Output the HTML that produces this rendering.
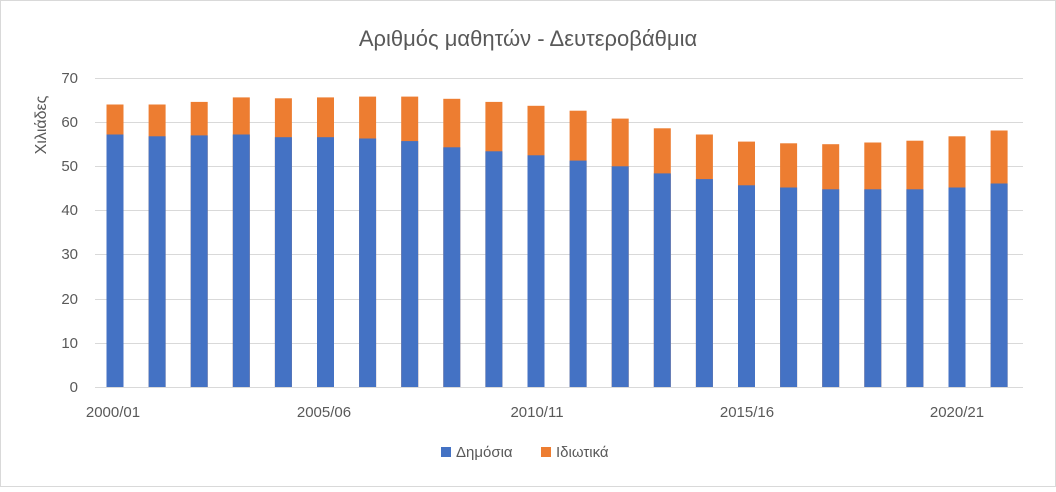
<!DOCTYPE html>
<html><head><meta charset="utf-8"><style>
body{margin:0;background:#fff}
svg text{font-family:"Liberation Sans",sans-serif;fill:#595959}
</style></head><body>
<svg width="1056" height="487" xmlns="http://www.w3.org/2000/svg">
<rect x="0.5" y="0.5" width="1055" height="486" fill="#fff" stroke="#d9d9d9"/>
<text x="528" y="46" font-size="22" text-anchor="middle">Αριθμός μαθητών - Δευτεροβάθμια</text>
<text transform="translate(46,125) rotate(-90)" font-size="16" text-anchor="middle">Χιλιάδες</text>
<g stroke="#d9d9d9" stroke-width="1">
<line x1="95" x2="1023" y1="78.5" y2="78.5"/><line x1="95" x2="1023" y1="122.5" y2="122.5"/>
<line x1="95" x2="1023" y1="166.5" y2="166.5"/><line x1="95" x2="1023" y1="210.5" y2="210.5"/>
<line x1="95" x2="1023" y1="254.5" y2="254.5"/><line x1="95" x2="1023" y1="299.5" y2="299.5"/>
<line x1="95" x2="1023" y1="343.5" y2="343.5"/><line x1="95" x2="1023" y1="387.5" y2="387.5"/>
</g>
<g font-size="15" text-anchor="end">
<text x="78" y="83">70</text><text x="78" y="127">60</text><text x="78" y="171">50</text>
<text x="78" y="215">40</text><text x="78" y="259">30</text><text x="78" y="304">20</text>
<text x="78" y="348">10</text><text x="78" y="392">0</text>
</g>
<g fill="#ed7d31">
<rect x="106.5" y="104.5" width="17" height="282.5"/>
<rect x="148.6" y="104.5" width="17" height="282.5"/>
<rect x="190.7" y="101.9" width="17" height="285.1"/>
<rect x="232.8" y="97.4" width="17" height="289.6"/>
<rect x="274.9" y="98.3" width="17" height="288.7"/>
<rect x="317.0" y="97.4" width="17" height="289.6"/>
<rect x="359.1" y="96.6" width="17" height="290.4"/>
<rect x="401.2" y="96.6" width="17" height="290.4"/>
<rect x="443.3" y="98.8" width="17" height="288.2"/>
<rect x="485.4" y="101.9" width="17" height="285.1"/>
<rect x="527.5" y="105.8" width="17" height="281.2"/>
<rect x="569.6" y="110.7" width="17" height="276.3"/>
<rect x="611.7" y="118.6" width="17" height="268.4"/>
<rect x="653.8" y="128.3" width="17" height="258.7"/>
<rect x="695.9" y="134.5" width="17" height="252.5"/>
<rect x="738.0" y="141.6" width="17" height="245.4"/>
<rect x="780.1" y="143.3" width="17" height="243.7"/>
<rect x="822.2" y="144.2" width="17" height="242.8"/>
<rect x="864.3" y="142.5" width="17" height="244.5"/>
<rect x="906.4" y="140.7" width="17" height="246.3"/>
<rect x="948.5" y="136.3" width="17" height="250.7"/>
<rect x="990.6" y="130.5" width="17" height="256.5"/>
</g>
<g fill="#4472c4">
<rect x="106.5" y="134.5" width="17" height="252.5"/>
<rect x="148.6" y="136.3" width="17" height="250.7"/>
<rect x="190.7" y="135.4" width="17" height="251.6"/>
<rect x="232.8" y="134.5" width="17" height="252.5"/>
<rect x="274.9" y="137.2" width="17" height="249.8"/>
<rect x="317.0" y="137.2" width="17" height="249.8"/>
<rect x="359.1" y="138.5" width="17" height="248.5"/>
<rect x="401.2" y="141.1" width="17" height="245.9"/>
<rect x="443.3" y="147.3" width="17" height="239.7"/>
<rect x="485.4" y="151.3" width="17" height="235.7"/>
<rect x="527.5" y="155.3" width="17" height="231.7"/>
<rect x="569.6" y="160.6" width="17" height="226.4"/>
<rect x="611.7" y="166.3" width="17" height="220.7"/>
<rect x="653.8" y="173.4" width="17" height="213.6"/>
<rect x="695.9" y="179.1" width="17" height="207.9"/>
<rect x="738.0" y="185.3" width="17" height="201.7"/>
<rect x="780.1" y="187.5" width="17" height="199.5"/>
<rect x="822.2" y="189.3" width="17" height="197.7"/>
<rect x="864.3" y="189.3" width="17" height="197.7"/>
<rect x="906.4" y="189.3" width="17" height="197.7"/>
<rect x="948.5" y="187.5" width="17" height="199.5"/>
<rect x="990.6" y="183.5" width="17" height="203.5"/>
</g>
<g font-size="15" text-anchor="middle">
<text x="113" y="417">2000/01</text><text x="324" y="417">2005/06</text><text x="537" y="417">2010/11</text>
<text x="747" y="417">2015/16</text><text x="957" y="417">2020/21</text>
</g>
<rect x="441" y="447" width="10" height="10" fill="#4472c4"/>
<text x="456" y="457" font-size="15">Δημόσια</text>
<rect x="541" y="447" width="10" height="10" fill="#ed7d31"/>
<text x="556" y="457" font-size="15">Ιδιωτικά</text>
</svg>
</body></html>
